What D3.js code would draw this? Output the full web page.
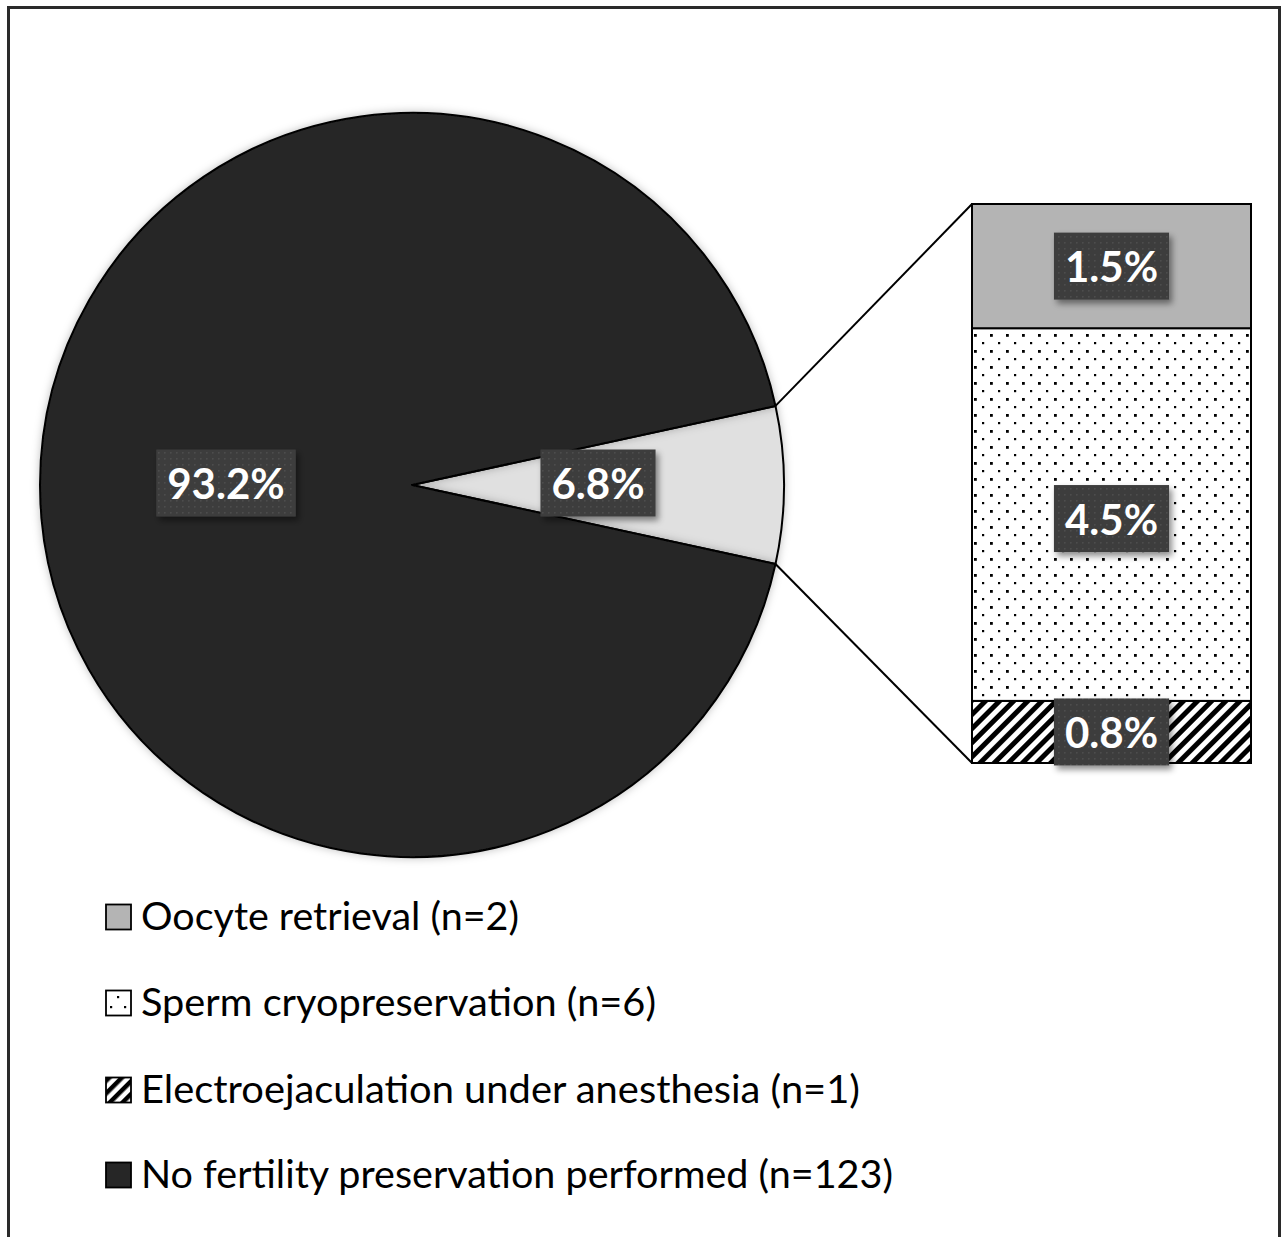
<!DOCTYPE html>
<html><head><meta charset="utf-8">
<script src="https://cdn.jsdelivr.net/npm/d3@7/dist/d3.min.js"></script>
<style>html,body{margin:0;padding:0;background:#fff;}svg{display:block;}</style>
</head><body>
<script>
// ---- data ----
const pieCategories = ["Fertility preservation performed", "No fertility preservation performed"];
const pieCounts = [9, 123];
const barCategories = ["Electroejaculation under anesthesia", "Sperm cryopreservation", "Oocyte retrieval"];
const barCounts = [1, 6, 2];
const legendLabels = ["Oocyte retrieval (n=2)", "Sperm cryopreservation (n=6)", "Electroejaculation under anesthesia (n=1)", "No fertility preservation performed (n=123)"];
const legendKeys = ["oocyte", "sperm", "electro", "none"];
const total = 132;

const W = 1285, H = 1237;
const svg = d3.select("body").append("svg").attr("width", W).attr("height", H);
const defs = svg.append("defs");

// patterns
const pDots = defs.append("pattern").attr("id","dots").attr("patternUnits","userSpaceOnUse")
  .attr("width",16).attr("height",16).attr("x",972).attr("y",330);
pDots.append("rect").attr("width",16).attr("height",16).attr("fill","#fff");
pDots.append("rect").attr("x",2).attr("y",4).attr("width",2.8).attr("height",2.8).attr("fill","#000");
pDots.append("rect").attr("x",10).attr("y",12).attr("width",2.2).attr("height",2.2).attr("fill","#000");

const pHatch = defs.append("pattern").attr("id","hatch").attr("patternUnits","userSpaceOnUse")
  .attr("width",10).attr("height",10).attr("patternTransform","rotate(45)");
pHatch.append("rect").attr("width",10).attr("height",10).attr("fill","#fff");
pHatch.append("rect").attr("x",0).attr("width",5).attr("height",10).attr("fill","#000");

const pHatchS = defs.append("pattern").attr("id","hatchS").attr("patternUnits","userSpaceOnUse")
  .attr("width",9).attr("height",9).attr("patternTransform","rotate(45)");
pHatchS.append("rect").attr("width",9).attr("height",9).attr("fill","#fff");
pHatchS.append("rect").attr("width",4.5).attr("height",9).attr("fill","#000");

const pBox = defs.append("pattern").attr("id","boxdots").attr("patternUnits","userSpaceOnUse")
  .attr("width",6).attr("height",6);
pBox.append("rect").attr("width",6).attr("height",6).attr("fill","#3c3c3c");
pBox.append("rect").attr("x",2).attr("y",2).attr("width",1.6).attr("height",1.6).attr("fill","#4e4e4e");

const f = defs.append("filter").attr("id","shadow").attr("x","-20%").attr("y","-20%").attr("width","150%").attr("height","160%");
f.append("feDropShadow").attr("dx",3).attr("dy",4).attr("stdDeviation",3).attr("flood-color","#000").attr("flood-opacity",0.45);
const fp = defs.append("filter").attr("id","pieShadow").attr("x","-10%").attr("y","-10%").attr("width","120%").attr("height","120%");
fp.append("feDropShadow").attr("dx",0).attr("dy",0).attr("stdDeviation",4).attr("flood-color","#000").attr("flood-opacity",0.25);

const fills = {oocyte:"#b4b4b4", sperm:"url(#dots)", electro:"url(#hatch)", none:"#262626", small:"#e0e0e0"};

// frame
svg.append("rect").attr("x",8.5).attr("y",7.5).attr("width",1271).attr("height",1250)
  .attr("fill","none").attr("stroke","#2a2a2a").attr("stroke-width",3);

// ---- pie ----
const cx = 412, cy = 485, R = 372;
const smallAngle = 2*Math.PI*pieCounts[0]/d3.sum(pieCounts);
const pie = d3.pie().sort(null).value(d=>d)
  .startAngle(Math.PI/2 - smallAngle/2).endAngle(Math.PI/2 - smallAngle/2 + 2*Math.PI);
const arcs = pie(pieCounts);
const arc = d3.arc().innerRadius(0).outerRadius(R);
const gPie = svg.append("g").attr("transform",`translate(${cx},${cy})`);
gPie.selectAll("path").data(arcs).join("path")
  .attr("d",arc)
  .attr("fill",(d,i)=> i===0 ? fills.small : fills.none)
  .attr("stroke","#000").attr("stroke-width",2).attr("stroke-linejoin","round")
  .attr("filter","url(#pieShadow)");

// ---- bar ----
const barX0 = 972, barX1 = 1251;
const y = d3.scaleLinear().domain([0, d3.sum(barCounts)]).range([763, 204]);
let cum = 0;
const barSegs = barCounts.map((v,i)=>{ const s = {key:["electro","sperm","oocyte"][i], v, y0:cum, y1:cum+v}; cum+=v; return s; });
const gBar = svg.append("g");
gBar.selectAll("rect").data(barSegs).join("rect")
  .attr("x",barX0).attr("width",barX1-barX0)
  .attr("y",d=>y(d.y1)).attr("height",d=>y(d.y0)-y(d.y1))
  .attr("fill",d=>fills[d.key]).attr("stroke","#000").attr("stroke-width",2);

// connector lines
const aTop = arcs[0].startAngle, aBot = arcs[0].endAngle;
const pt = a => [cx + R*Math.sin(a), cy - R*Math.cos(a)];
const pTop = pt(aTop), pBot = pt(aBot);
svg.append("line").attr("x1",pTop[0]).attr("y1",pTop[1]).attr("x2",barX0).attr("y2",y(d3.sum(barCounts)))
  .attr("stroke","#000").attr("stroke-width",2);
svg.append("line").attr("x1",pBot[0]).attr("y1",pBot[1]).attr("x2",barX0).attr("y2",y(0))
  .attr("stroke","#000").attr("stroke-width",2);

// ---- data labels ----
function label(x, yc, text){
  const g = svg.append("g");
  const r = g.append("rect").attr("fill","url(#boxdots)").attr("filter","url(#shadow)");
  const t = g.append("text").attr("x",x).attr("y",yc).attr("text-anchor","middle").attr("dominant-baseline","central")
    .attr("font-family","Lato, 'Open Sans', sans-serif").attr("font-weight","bold").attr("font-size",42)
    .attr("fill","#fff").text(text);
  const w = t.node().getComputedTextLength();
  const bw = w + 22, bh = 67;
  r.attr("x",x-bw/2).attr("y",yc-bh/2).attr("width",bw).attr("height",bh);
}
const pct = v => (100*v/total).toFixed(1)+"%";
arcs.forEach((a,i)=>{
  const c = arc.centroid(a);
  label(cx + c[0], cy + c[1] - 2, pct(pieCounts[i]));
});
barSegs.forEach(s=>{
  label((barX0+barX1)/2, (y(s.y0)+y(s.y1))/2 + (s.key==="sperm"?4:0), pct(s.v));
});

// ---- legend ----
const legTargets = [378, 515, 719, 752];
const legY = [917, 1003, 1090, 1175];
const gLeg = svg.append("g");
legendLabels.forEach((lab,i)=>{
  const k = legendKeys[i];
  const yy = legY[i];
  const fillIcon = k==="electro" ? "url(#hatchS)" : (k==="sperm" ? "#fff" : fills[k]);
  gLeg.append("rect").attr("x",106).attr("y",yy-12.5).attr("width",25).attr("height",25)
    .attr("fill",fillIcon).attr("stroke","#000").attr("stroke-width",1.8);
  if(k==="sperm"){
    [[118,yy-6],[111,yy+4],[125,yy+4]].forEach(p=>{
      gLeg.append("rect").attr("x",p[0]-1).attr("y",p[1]-1).attr("width",2.2).attr("height",2.2).attr("fill","#000");
    });
  }
  const t = gLeg.append("text").attr("x",141).attr("y",yy+13)
    .attr("font-family","Lato, 'Open Sans', sans-serif").attr("font-size",38).attr("fill","#000").text(lab);
  t.attr("textLength",legTargets[i]).attr("lengthAdjust","spacingAndGlyphs");
});
</script>
</body></html>
